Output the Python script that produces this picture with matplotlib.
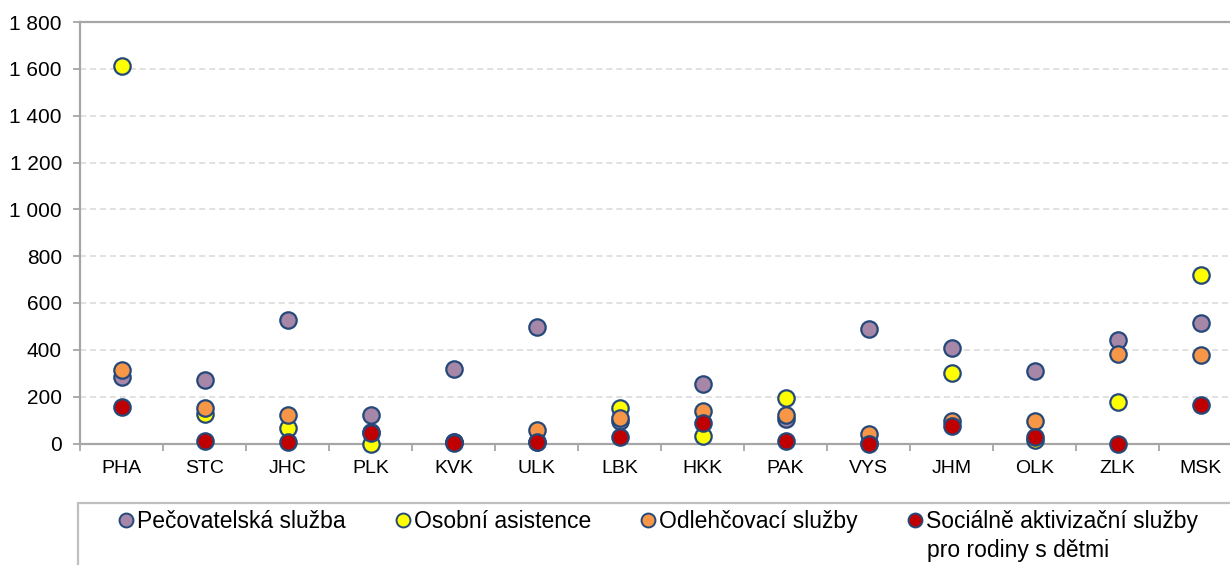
import matplotlib
matplotlib.use("Agg")
import matplotlib.pyplot as plt
from matplotlib.lines import Line2D
from matplotlib.patches import Rectangle
from matplotlib.ticker import FuncFormatter, MultipleLocator

plt.rcParams["font.family"] = ["Liberation Sans", "DejaVu Sans"]

regions = ["PHA", "STC", "JHC", "PLK", "KVK", "ULK", "LBK",
           "HKK", "PAK", "VYS", "JHM", "OLK", "ZLK", "MSK"]

pecovatelska = [283, 273, 527, 122, 319, 497, 95, 253, 106, 489, 409, 309, 441, 513]
osobni_asistence = [1610, 125, 67, 0, 5, 8, 152, 30, 195, 3, 302, 15, 176, 721]
odlehcovaci = [316, 153, 122, 48, 6, 58, 109, 139, 120, 39, 95, 95, 383, 377]
sas_rodiny = [155, 12, 8, 46, 2, 5, 27, 89, 12, 0, 74, 29, 0, 163]

series = [
    ("Pečovatelská služba", pecovatelska, "#A687A8"),
    ("Osobní asistence", osobni_asistence, "#FFFF00"),
    ("Odlehčovací služby", odlehcovaci, "#F79646"),
    ("Sociálně aktivizační služby", sas_rodiny, "#C00000"),
]
label_second_line = "pro rodiny s dětmi"

W, H = 1230, 565
EDGE = "#24487A"
GRAY = "#A6A6A6"

fig = plt.figure(figsize=(W / 100, H / 100), dpi=100)
ax = fig.add_axes([80 / W, 1 - 443.5 / H, 1162 / W, (443.5 - 22) / H])

x = list(range(len(regions)))
for name, vals, color in series:
    ax.plot(x, vals, linestyle="none", marker="o", markersize=11.8,
            markerfacecolor=color, markeredgecolor=EDGE, markeredgewidth=1.6,
            clip_on=False, zorder=3)

ax.set_xlim(-0.5, len(regions) - 0.5)
ax.set_ylim(0, 1800)
ax.yaxis.set_major_locator(MultipleLocator(200))
ax.yaxis.set_major_formatter(FuncFormatter(lambda v, p: f"{int(v):,}".replace(",", " ")))
ax.set_xticks(x)
ax.set_xticklabels(regions)
ax.set_xticks([i + 0.5 for i in range(-1, len(regions))], minor=True)

ax.tick_params(axis="x", which="major", length=0, pad=12, labelsize=14)
ax.tick_params(axis="x", which="minor", length=5, width=1.3, color=GRAY, direction="out")
ax.tick_params(axis="y", length=5, width=1.3, color=GRAY, pad=8, labelsize=15)

for s in ["left", "bottom", "top"]:
    ax.spines[s].set_color(GRAY)
    ax.spines[s].set_linewidth(1.6)
ax.spines["right"].set_visible(False)

ax.grid(axis="y", color="#D9D9D9", linestyle=(0, (4, 2.5)), linewidth=1.1)
ax.set_axisbelow(True)

# legend frame (runs off the right and bottom edge)
fig.patches.append(Rectangle((78 / W, -0.2), 1.2, 0.2 + 1 - 503 / H,
                             transform=fig.transFigure, facecolor="none",
                             edgecolor="#BFBFBF", linewidth=1.6))

LEG_FS = 16.5
legend_x = [119, 396, 641, 908]
for (name, vals, color), lx in zip(series, legend_x):
    h = Line2D([], [], linestyle="none", marker="o", markersize=10,
               markerfacecolor=color, markeredgecolor=EDGE, markeredgewidth=1.4)
    fig.legend([h], [name], loc="upper left", bbox_to_anchor=(lx / W, 1 - 510 / H),
               frameon=False, fontsize=LEG_FS, borderpad=0, borderaxespad=0,
               handlelength=0.6, handletextpad=0.2)

fig.text(927 / W, 1 - 551 / H, label_second_line, fontsize=LEG_FS, va="center", ha="left")

fig.savefig("out.png", dpi=100)
